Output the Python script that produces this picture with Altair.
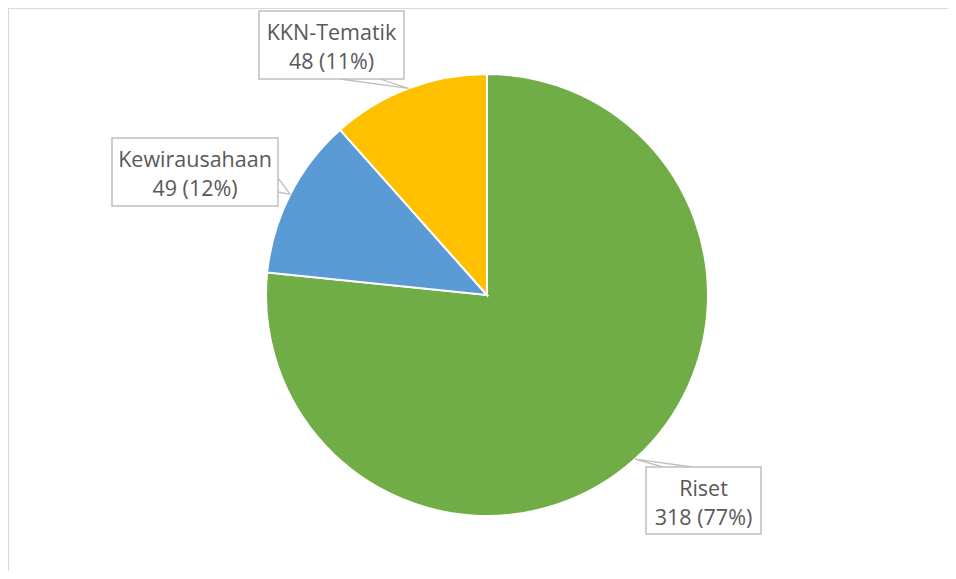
import altair as alt
import pandas as pd

# ---- data ----
categories = ["Riset", "Kewirausahaan", "KKN-Tematik"]
values = [318, 49, 48]
pct_labels = ["77%", "12%", "11%"]
colors = ["#70AD47", "#5B9BD5", "#FFC000"]

# ---- layout (pixels inside the plot area) ----
W, H = 940, 563
CX, CY, R = 479, 287, 221
box_x1 = [638, 104, 251]
box_x2 = [753, 270, 396]
box_y1 = [459, 130, 3]
box_y2 = [526, 198, 71]
wedge_ax = [655, 270, 332]
wedge_ay = [459, 170, 71]
wedge_bx = [684, 270, 372]
wedge_by = [459, 184, 71]

FONT = "Open Sans, Carlito, Calibri, sans-serif"
TEXT_COLOR = "#595959"
BOX_COLOR = "#BFBFBF"

df = pd.DataFrame({
    "category": categories,
    "value": values,
    "order": list(range(len(categories))),
    "label": [f"{c}\n{v} ({p})" for c, v, p in zip(categories, values, pct_labels)],
    "bx1": box_x1, "bx2": box_x2, "by1": box_y1, "by2": box_y2,
    "wax": wedge_ax, "way": wedge_ay, "wbx": wedge_bx, "wby": wedge_by,
})

base = alt.Chart(df)

pie = base.mark_arc(radius=R, stroke="white", strokeWidth=2).encode(
    theta=alt.Theta("value:Q", stack=True),
    order=alt.Order("order:Q"),
    color=alt.Color("category:N", scale=alt.Scale(domain=categories, range=colors), legend=None),
    x=alt.value(CX),
    y=alt.value(CY),
)

tips = base.transform_joinaggregate(
    total="sum(value)"
).transform_window(
    cum="sum(value)", sort=[alt.SortField("order")], frame=[None, 0]
).transform_calculate(
    mid="(datum.cum - datum.value/2) / datum.total * 2 * PI",
    tx=f"{CX} + {R} * sin(datum.mid)",
    ty=f"{CY} - {R} * cos(datum.mid)",
)

wedge_a = tips.mark_rule(color=BOX_COLOR, strokeWidth=1.3).encode(
    x=alt.X("tx:Q", scale=None), y=alt.Y("ty:Q", scale=None),
    x2="wax:Q", y2="way:Q",
)
wedge_b = tips.mark_rule(color=BOX_COLOR, strokeWidth=1.3).encode(
    x=alt.X("tx:Q", scale=None), y=alt.Y("ty:Q", scale=None),
    x2="wbx:Q", y2="wby:Q",
)

boxes = base.mark_rect(fill="white", stroke=BOX_COLOR, strokeWidth=1.5).encode(
    x=alt.X("bx1:Q", scale=None), x2="bx2:Q",
    y=alt.Y("by1:Q", scale=None), y2="by2:Q",
)

texts = base.transform_calculate(
    tcx="(datum.bx1 + datum.bx2) / 2",
    tcy="datum.by1 + 28.5",
).mark_text(
    lineBreak="\n", lineHeight=29, fontSize=21.5, font=FONT, color=TEXT_COLOR,
    align="center", baseline="alphabetic",
).encode(
    x=alt.X("tcx:Q", scale=None), y=alt.Y("tcy:Q", scale=None), text="label:N",
)

border_top = base.mark_rule(color="#D9D9D9", strokeWidth=1).encode(
    x=alt.value(0), x2=alt.value(W), y=alt.value(0.5)
)
border_left = base.mark_rule(color="#D9D9D9", strokeWidth=1).encode(
    x=alt.value(0.5), y=alt.value(0), y2=alt.value(H)
)

chart = alt.layer(
    border_top, border_left, pie, wedge_a, wedge_b, boxes, texts
).resolve_scale(
    x="independent", y="independent"
).properties(
    width=W, height=H, padding=0,
    autosize=alt.AutoSizeParams(type="none"),
).configure_view(strokeWidth=0)

chart.save("out.html", embed_options={"renderer": "svg", "actions": False})
